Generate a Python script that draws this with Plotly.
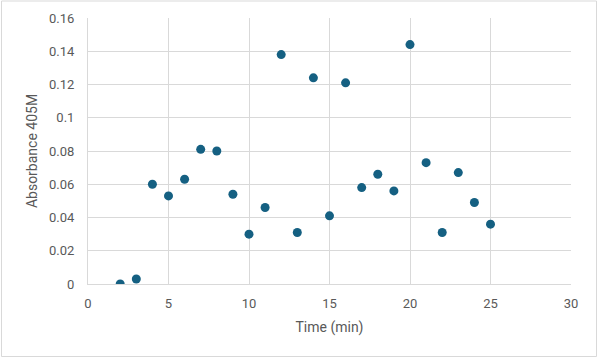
import plotly.graph_objects as go

time_min = [2, 3, 4, 5, 6, 7, 8, 9, 10, 11, 12, 13, 14, 15, 16, 17, 18, 19, 20, 21, 22, 23, 24, 25]
absorbance = [0.0, 0.003, 0.060, 0.053, 0.063, 0.081, 0.080, 0.054, 0.030, 0.046, 0.138, 0.031,
              0.124, 0.041, 0.121, 0.058, 0.066, 0.056, 0.144, 0.073, 0.031, 0.067, 0.049, 0.036]

x_ticks = [0, 5, 10, 15, 20, 25, 30]
y_ticks = [0, 0.02, 0.04, 0.06, 0.08, 0.1, 0.12, 0.14, 0.16]
y_tick_text = ["0", "0.02", "0.04", "0.06", "0.08", "0.1", "0.12", "0.14", "0.16"]

W, H = 600, 360
L, R, T, B = 88, 29, 18, 76
pw, ph = W - L - R, H - T - B

def px2paper_x(px):
    return (px - L) / pw

def px2paper_y(py):
    return (H - B - py) / ph

fig = go.Figure()
fig.add_trace(go.Scatter(
    x=time_min, y=absorbance, mode="markers",
    marker=dict(color="#156082", size=9, line=dict(width=0)),
    showlegend=False,
))

font_family = "Roboto, Liberation Sans, Arial, sans-serif"
grid = "#d9d9d9"

fig.update_layout(
    width=W, height=H,
    margin=dict(l=L, r=R, t=T, b=B, autoexpand=False),
    paper_bgcolor="white", plot_bgcolor="white",
    font=dict(family=font_family, size=13, color="#595959"),
    xaxis=dict(
        range=[0, 30], tickvals=x_ticks, showgrid=True, gridcolor=grid, gridwidth=1,
        zeroline=False, showline=True, linecolor=grid, linewidth=1, mirror=False,
        ticks="", ticklabelstandoff=7,
        title=dict(text="Time (min)", font=dict(size=14, color="#595959"), standoff=12),
        fixedrange=True,
    ),
    yaxis=dict(
        range=[0, 0.16], tickvals=y_ticks, ticktext=y_tick_text, showgrid=True, gridcolor=grid,
        gridwidth=1, zeroline=False, showline=True, linecolor=grid, linewidth=1,
        ticks="", ticklabelstandoff=10,
        title=dict(text="Absorbance 405M", font=dict(size=14, color="#595959"), standoff=8),
        fixedrange=True,
    ),
    shapes=[dict(
        type="rect", xref="paper", yref="paper",
        x0=px2paper_x(1.5), x1=px2paper_x(596.5),
        y0=px2paper_y(356.5), y1=px2paper_y(1.0),
        line=dict(color="#d9d9d9", width=1), fillcolor="rgba(0,0,0,0)", layer="below",
    )],
)

fig.write_html(
    "out.html",
    config={"displayModeBar": False},
    post_script="document.body.style.margin='0';document.body.style.overflow='hidden';",
)
